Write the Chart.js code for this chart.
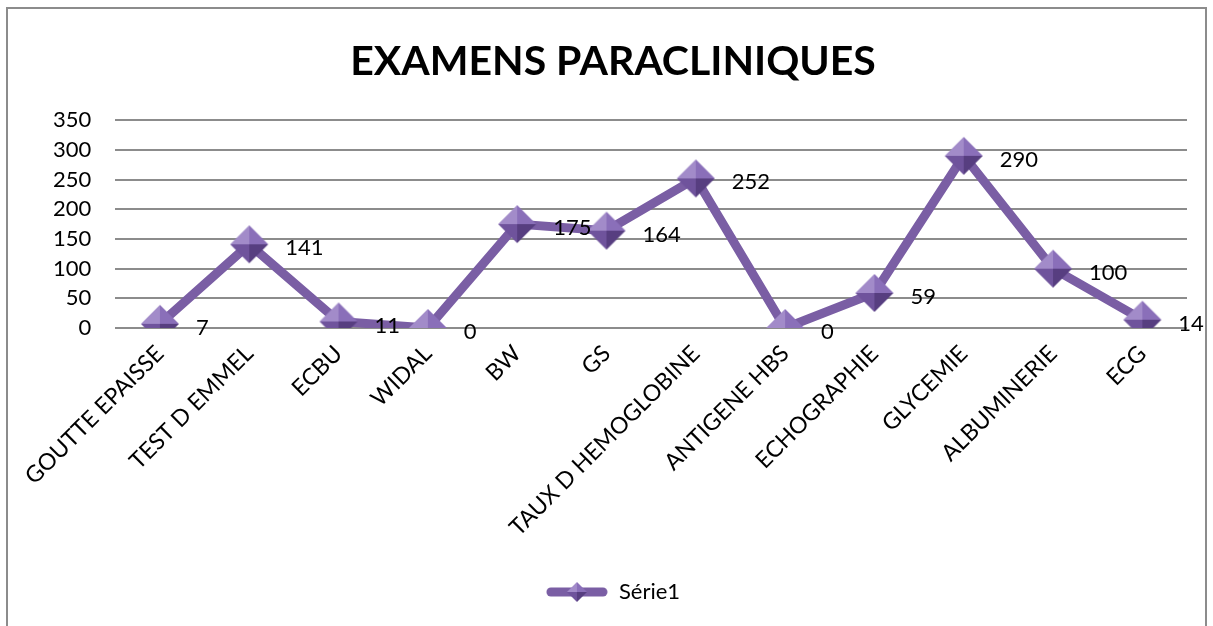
<!DOCTYPE html>
<html>
<head>
<meta charset="utf-8">
<script src="https://cdn.jsdelivr.net/npm/chart.js@4"></script>
<style>
  html, body { margin: 0; padding: 0; background: #fff; overflow: hidden; }
  #wrap {
    position: absolute; left: 6px; top: 7px; width: 1201px; height: 630px;
    border: 2px solid #8c8c8c; box-sizing: border-box; background: #fff;
  }
  #c { position: absolute; left: 0; top: 0; }
</style>
</head>
<body>
<div id="wrap"><canvas id="c" width="1207" height="626"></canvas></div>
<script>
const categories = [
  "GOUTTE EPAISSE", "TEST D EMMEL", "ECBU", "WIDAL", "BW", "GS",
  "TAUX D HEMOGLOBINE", "ANTIGENE HBS", "ECHOGRAPHIE", "GLYCEMIE",
  "ALBUMINERIE", "ECG"
];
const serie1 = [7, 141, 11, 0, 175, 164, 252, 0, 59, 290, 100, 14];
const yTicks = [0, 50, 100, 150, 200, 250, 300, 350];

const FONT = "Lato, 'Open Sans', sans-serif";
const LINE_COLOR = "#7a5ea4";

// faceted diamond marker
function diamond(r) {
  const s = r * 2 + 4;
  const cv = document.createElement("canvas");
  cv.width = s; cv.height = s;
  const g = cv.getContext("2d");
  const c = s / 2;
  const faces = [
    [[c, c - r], [c - r, c], "#a28bc9"],
    [[c, c - r], [c + r, c], "#8a6fb9"],
    [[c - r, c], [c, c + r], "#6f539c"],
    [[c + r, c], [c, c + r], "#573e80"]
  ];
  faces.forEach(f => {
    g.beginPath();
    g.moveTo(c, c);
    g.lineTo(f[0][0], f[0][1]);
    g.lineTo(f[1][0], f[1][1]);
    g.closePath();
    g.fillStyle = f[2];
    g.fill();
  });
  return cv;
}

const marker = diamond(19);

// legend symbol: thick line with a small diamond
const legendIcon = (() => {
  const cv = document.createElement("canvas");
  cv.width = 62; cv.height = 24;
  const g = cv.getContext("2d");
  g.strokeStyle = LINE_COLOR;
  g.lineWidth = 9;
  g.lineCap = "round";
  g.beginPath();
  g.moveTo(5, 12); g.lineTo(57, 12);
  g.stroke();
  g.drawImage(diamond(10), 31 - 12, 0);
  return cv;
})();

const valueLabels = {
  id: "valueLabels",
  afterDatasetsDraw(chart) {
    const ctx = chart.ctx;
    const meta = chart.getDatasetMeta(0);
    ctx.save();
    ctx.font = "22px " + FONT;
    ctx.fillStyle = "#000";
    ctx.textAlign = "left";
    ctx.textBaseline = "middle";
    meta.data.forEach((pt, i) => {
      ctx.fillText(String(serie1[i]), pt.x + 36, pt.y + 4);
    });
    ctx.restore();
  }
};

new Chart(document.getElementById("c").getContext("2d"), {
  type: "line",
  data: {
    labels: categories,
    datasets: [{
      label: "Série1",
      data: serie1,
      borderColor: LINE_COLOR,
      borderWidth: 9,
      pointStyle: marker,
      pointRadius: 19,
      pointHoverRadius: 19,
      tension: 0
    }]
  },
  options: {
    responsive: false,
    animation: false,
    layout: { padding: { left: 21, right: 18, top: 10, bottom: 22 } },
    plugins: {
      title: {
        display: true,
        text: "EXAMENS PARACLINIQUES",
        color: "#000",
        font: { family: FONT, size: 41, weight: "bold" },
        padding: { top: 18, bottom: 34 }
      },
      legend: {
        position: "bottom",
        labels: {
          usePointStyle: true,
          pointStyleWidth: 62,
          boxHeight: 22,
          padding: 10,
          color: "#000",
          font: { family: FONT, size: 22 },
          generateLabels: () => [{
            text: "Série1",
            pointStyle: legendIcon,
            fontColor: "#000",
            datasetIndex: 0
          }]
        }
      },
      tooltip: { enabled: false }
    },
    scales: {
      x: {
        offset: true,
        grid: { display: false },
        border: { display: false },
        afterFit: axis => { axis.height = 243; },
        ticks: {
          color: "#000",
          font: { family: FONT, size: 23 },
          minRotation: 45,
          maxRotation: 45,
          autoSkip: false,
          padding: 4
        }
      },
      y: {
        min: 0,
        max: 350,
        afterBuildTicks: axis => { axis.ticks = yTicks.map(v => ({ value: v })); },
        grid: { color: "#8c8c8c", lineWidth: 2, drawTicks: false },
        border: { display: false },
        ticks: {
          color: "#000",
          font: { family: FONT, size: 22 },
          padding: 24
        }
      }
    }
  },
  plugins: [valueLabels]
});
</script>
</body>
</html>
